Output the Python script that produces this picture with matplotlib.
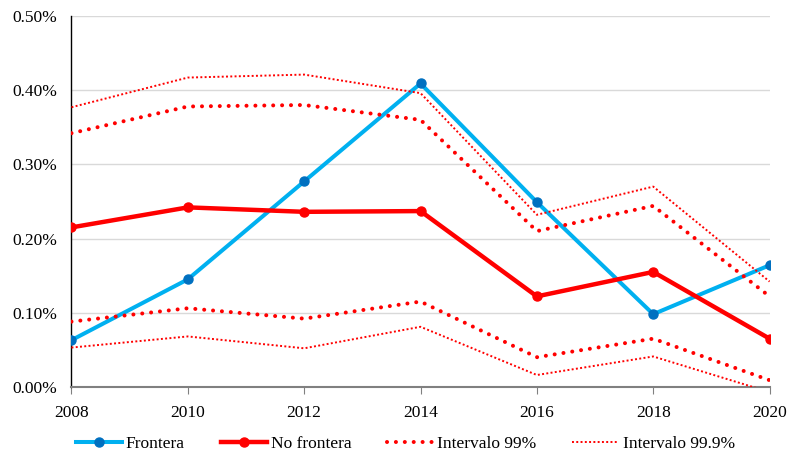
import matplotlib
matplotlib.use("Agg")
import matplotlib.pyplot as plt
from matplotlib.ticker import FuncFormatter

years = [2008, 2010, 2012, 2014, 2016, 2018, 2020]
frontera = [0.063, 0.145, 0.277, 0.409, 0.249, 0.098, 0.164]
no_frontera = [0.215, 0.242, 0.236, 0.237, 0.122, 0.155, 0.065]
int99_upper = [0.342, 0.378, 0.380, 0.360, 0.210, 0.244, 0.122]
int99_lower = [0.088, 0.106, 0.092, 0.115, 0.040, 0.065, 0.009]
int999_upper = [0.377, 0.417, 0.421, 0.396, 0.232, 0.270, 0.142]
int999_lower = [0.053, 0.068, 0.052, 0.081, 0.016, 0.041, -0.007]
yticks = [0.0, 0.1, 0.2, 0.3, 0.4, 0.5]

plt.rcParams['font.family'] = ['Liberation Serif', 'DejaVu Serif']

fig = plt.figure(figsize=(7.96, 4.65), dpi=100)
ax = fig.add_axes([0.0898, 0.168, 0.877, 0.7976])

red = '#FF0000'
l1, = ax.plot(years, frontera, color='#00B0F0', lw=2.9, marker='o', ms=6.5,
              mfc='#0070C0', mec='#0070C0', label='Frontera', zorder=3)
l2, = ax.plot(years, no_frontera, color=red, lw=3.2, marker='o', ms=6.5,
              mfc=red, mec=red, label='No frontera', zorder=3)
l3, = ax.plot(years, int99_upper, color=red, lw=2.9, ls=(0, (0.01, 2.2)),
              dash_capstyle='round', label='Intervalo 99%', zorder=4)
ax.plot(years, int99_lower, color=red, lw=2.9, ls=(0, (0.01, 2.2)),
        dash_capstyle='round', zorder=4)
l4, = ax.plot(years, int999_upper, color=red, lw=1.4, ls=(0, (1, 1.2)),
              label='Intervalo 99.9%', zorder=4)
ax.plot(years, int999_lower, color=red, lw=1.4, ls=(0, (1, 1.2)), zorder=4)

ax.set_xlim(2008, 2020)
ax.set_ylim(0, 0.5)
ax.set_xticks(years)
ax.set_yticks(yticks)
ax.yaxis.set_major_formatter(FuncFormatter(lambda v, p: f"{v:.2f}%"))
ax.grid(axis='y', color='#D9D9D9', lw=1)
ax.set_axisbelow(True)

for s in ['top', 'right']:
    ax.spines[s].set_visible(False)
ax.spines['left'].set_color('black')
ax.spines['left'].set_linewidth(1)
ax.spines['bottom'].set_color('#808080')
ax.spines['bottom'].set_linewidth(1.5)
ax.tick_params(axis='y', length=0, labelsize=12.5, pad=10)
ax.tick_params(axis='x', direction='out', length=5, color='#808080',
               labelsize=12.5, pad=8)

fig.legend(handles=[l1, l2, l3, l4], loc='center', bbox_to_anchor=(0.509, 0.045),
           ncol=4, frameon=False, fontsize=12.5, handlelength=2.7,
           handletextpad=0.2, columnspacing=2.05)

fig.savefig('out.png', dpi=100)
